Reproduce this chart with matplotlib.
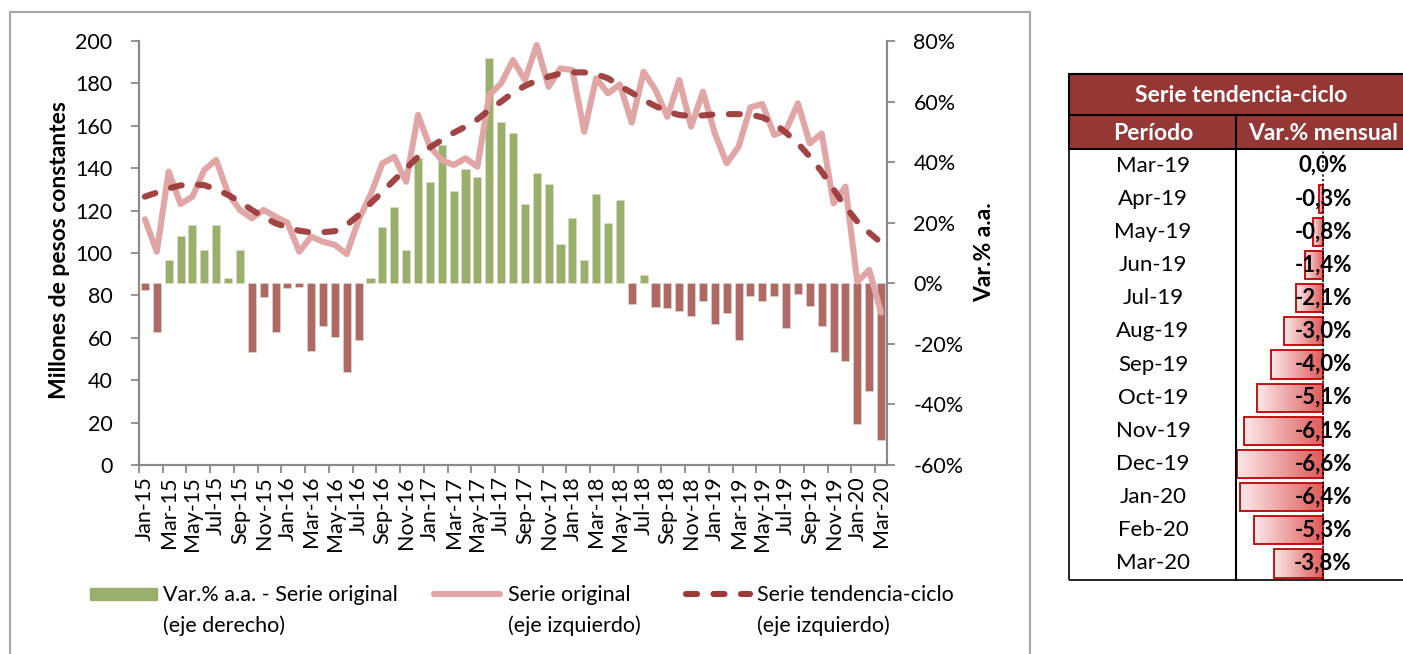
import numpy as np
import matplotlib
matplotlib.use("Agg")
import matplotlib.pyplot as plt
from matplotlib.lines import Line2D
from matplotlib.patches import Rectangle
from matplotlib.colors import LinearSegmentedColormap

plt.rcParams['font.family'] = ['Lato', 'DejaVu Sans']

W, H = 1403, 654

# --- data -------------------------------------------------------------
month_names = ['Jan', 'Feb', 'Mar', 'Apr', 'May', 'Jun',
               'Jul', 'Aug', 'Sep', 'Oct', 'Nov', 'Dec']
months = [m + '-' + y for y in ['15', '16', '17', '18', '19'] for m in month_names] + ['Jan-20', 'Feb-20', 'Mar-20']

# Var.% a.a. - serie original (eje derecho, %)
var_aa = [-2.2, -16.2, 7.8, 15.5, 19.4, 11.1, 19.4, 1.9, 11.0, -22.8, -4.6, -16.2,
          -1.6, -1.3, -22.4, -14.1, -17.8, -29.4, -18.8, 1.7, 18.5, 25.1, 11.0, 41.3,
          33.6, 45.7, 30.6, 37.9, 35.0, 74.5, 53.4, 49.7, 26.2, 36.4, 32.9, 13.0,
          21.4, 7.7, 29.5, 20.0, 27.5, -7.0, 2.8, -7.9, -8.2, -9.0, -10.7, -5.9,
          -13.6, -9.9, -18.8, -4.1, -5.7, -4.1, -14.8, -3.7, -7.4, -14.0, -22.8, -25.8,
          -46.6, -35.6, -51.9]

# Serie original (millones de pesos constantes)
original = [115.9, 100.6, 138.4, 123.1, 126.6, 139.2, 143.9, 128.2, 120.3, 116.4, 120.3, 117.1,
            114.3, 100.6, 107.7, 105.3, 103.8, 99.5, 115.6, 127.4, 142.3, 145.4, 133.6, 165.1,
            150.2, 143.9, 141.5, 144.7, 140.7, 174.5, 180.0, 191.0, 181.6, 198.1, 178.4, 187.1,
            186.3, 157.2, 182.4, 175.3, 179.5, 161.5, 185.5, 176.9, 164.3, 181.6, 159.6, 176.1,
            156.4, 142.3, 150.2, 168.7, 170.3, 155.7, 158.0, 170.6, 151.7, 156.4, 123.4, 131.3,
            86.5, 92.0, 71.9]

# Serie tendencia-ciclo
trend = [126.6, 128.5, 130.5, 131.9, 132.4, 132.0, 130.0, 127.4, 124.2, 120.3, 117.1, 114.0,
         112.1, 110.5, 109.7, 109.8, 110.3, 113.2, 117.9, 123.4, 128.9, 134.4, 139.9, 145.4,
         149.8, 153.3, 156.7, 159.6, 163.0, 167.5, 171.4, 175.6, 178.8, 181.3, 183.2, 184.7,
         185.2, 185.2, 184.4, 182.4, 178.8, 175.6, 172.2, 169.3, 166.7, 165.1, 164.6, 164.9,
         165.4, 165.5, 165.5, 165.3, 164.0, 161.2, 156.7, 151.7, 145.4, 138.4, 130.0, 121.8,
         114.8, 109.6, 104.9]

table_periods = ['Mar-19', 'Apr-19', 'May-19', 'Jun-19', 'Jul-19', 'Aug-19', 'Sep-19',
                 'Oct-19', 'Nov-19', 'Dec-19', 'Jan-20', 'Feb-20', 'Mar-20']
table_var = [0.0, -0.3, -0.8, -1.4, -2.1, -3.0, -4.0, -5.1, -6.1, -6.6, -6.4, -5.3, -3.8]

# --- styles -----------------------------------------------------------
GREEN = '#9BAF6C'
RED_BAR = '#B06866'
PINK = '#E0A6A5'
TREND = '#9C3A3A'
HEADER = '#953735'
SPINE = '#898989'
FS = 15.5


def fx(px):
    return px / W


def fy(py):
    return 1 - py / H


fig = plt.figure(figsize=(W / 100, H / 100), dpi=100)

# chart border
fig.add_artist(Rectangle((fx(10), fy(700)), fx(1030) - fx(10), fy(12) - fy(700),
                         transform=fig.transFigure, fill=False, edgecolor='#A6A6A6', lw=1.5))

# bars live on the bottom axes (right scale), lines on the top axes (left scale)
ax = fig.add_axes([fx(139), fy(465), fx(887) - fx(139), fy(41) - fy(465)])
ax2 = ax.twinx()

x = np.arange(len(months))
colors = [GREEN if v >= 0 else RED_BAR for v in var_aa]
ax.bar(x, var_aa, width=0.68, color=colors, edgecolor='#D8E0C8', linewidth=0.4)
ax.set_ylim(-60, 80)
ax.set_yticks(np.arange(-60, 81, 20))
ax.set_yticklabels([f'{v}%' for v in range(-60, 81, 20)])
ax.yaxis.tick_right()
ax.yaxis.set_label_position('right')

ax2.plot(x, original, color=PINK, lw=4.4, solid_joinstyle='round', solid_capstyle='round')
ax2.plot(x, trend, color=TREND, lw=4.4, dashes=(1.8, 2.7), dash_capstyle='round', alpha=0.95)
ax2.set_ylim(0, 200)
ax2.set_yticks(np.arange(0, 201, 20))
ax2.yaxis.tick_left()

ax.set_xlim(-0.5, len(months) - 0.5)
ax.set_xticks(x[::2])
ax.set_xticklabels(months[::2], rotation=90)
ax.set_xticks(np.arange(-0.5, len(months), 2), minor=True)
ax.tick_params(axis='x', which='major', length=0, pad=8, labelsize=FS)
ax.tick_params(axis='x', which='minor', length=6, width=1.3, color=SPINE)

for a in (ax, ax2):
    a.spines['top'].set_visible(False)
    for s in ('left', 'right', 'bottom'):
        a.spines[s].set_color(SPINE)
        a.spines[s].set_linewidth(1.5)
    a.tick_params(axis='y', length=6, width=1.3, color=SPINE, pad=13, labelsize=FS)

fig.text(fx(60), fy(250), 'Millones de pesos constantes', rotation=90, ha='center', va='center',
         fontsize=16.5, fontweight='bold')
fig.text(fx(985), fy(252), 'Var.% a.a.', rotation=90, ha='center', va='center',
         fontsize=16.5, fontweight='bold')

# legend
fig.add_artist(Rectangle((fx(90), fy(600)), fx(157) - fx(90), fy(588) - fy(600),
                         transform=fig.transFigure, color=GREEN))
fig.add_artist(Line2D([fx(434), fx(500)], [fy(594), fy(594)], transform=fig.transFigure,
                      color=PINK, lw=4.4, solid_capstyle='round'))
fig.add_artist(Line2D([fx(686), fx(750)], [fy(594), fy(594)], transform=fig.transFigure,
                      color=TREND, lw=4.4, dashes=(1.8, 2.7), dash_capstyle='round'))
legend_texts = [(163, 'Var.% a.a. - Serie original', '(eje derecho)'),
                (508, 'Serie original', '(eje izquierdo)'),
                (757, 'Serie tendencia-ciclo', '(eje izquierdo)')]
for px, l1, l2 in legend_texts:
    fig.text(fx(px), fy(595), l1, ha='left', va='center', fontsize=FS)
    fig.text(fx(px), fy(626), l2, ha='left', va='center', fontsize=FS)

# --- table ------------------------------------------------------------
T_LEFT, T_RIGHT, T_DIV = 1069, 1415, 1236
Y_H1, Y_H2, Y_BODY, Y_END = 74, 115, 149, 580
row_h = (Y_END - Y_BODY) / len(table_periods)


def frect(x0, y0, x1, y1, **kw):
    fig.add_artist(Rectangle((fx(x0), fy(y1)), fx(x1) - fx(x0), fy(y0) - fy(y1),
                             transform=fig.transFigure, **kw))


frect(T_LEFT, Y_H1, T_RIGHT, Y_H2, facecolor=HEADER, edgecolor='black', lw=1.5)
frect(T_LEFT, Y_H2, T_DIV, Y_BODY, facecolor=HEADER, edgecolor='black', lw=1.5)
frect(T_DIV, Y_H2, T_RIGHT, Y_BODY, facecolor=HEADER, edgecolor='black', lw=1.5)
frect(T_LEFT, Y_BODY, T_RIGHT, Y_END, facecolor='none', edgecolor='black', lw=1.2)
fig.add_artist(Line2D([fx(T_DIV), fx(T_DIV)], [fy(Y_BODY), fy(Y_END)],
                      transform=fig.transFigure, color='black', lw=1.5))

fig.text(fx(1241), fy(96), 'Serie tendencia-ciclo', ha='center', va='center',
         color='white', fontsize=16.5, fontweight='bold')
fig.text(fx(1153), fy(133), 'Período', ha='center', va='center',
         color='white', fontsize=16.5, fontweight='bold')
fig.text(fx(1323), fy(133), 'Var.% mensual', ha='center', va='center',
         color='white', fontsize=16.5, fontweight='bold')

# data bars in the second column
tax = fig.add_axes([fx(T_DIV + 1), fy(Y_END), fx(W) - fx(T_DIV + 1), fy(Y_BODY) - fy(Y_END)])
tax.axis('off')
scale = 12.97  # px per percent point
x_lo = -(1323 - (T_DIV + 1)) / scale
x_hi = (W - 1323) / scale
cmap = LinearSegmentedColormap.from_list('bar', ['#FBE9E9', '#DE5A5A'])
grad = np.linspace(0, 1, 256).reshape(1, -1)
bh = 0.85
for i, v in enumerate(table_var):
    if v == 0:
        continue
    rect = Rectangle((v, i - bh / 2), -v, bh, facecolor='none', edgecolor='#C00000', lw=1.3, zorder=3)
    tax.add_patch(rect)
    im = tax.imshow(grad, extent=[v, 0, i + bh / 2, i - bh / 2], cmap=cmap, aspect='auto', zorder=2)
    im.set_clip_path(rect)
tax.axvline(0, color='black', ls=(0, (1.5, 1.5)), lw=1.1, zorder=4)
tax.set_xlim(x_lo, x_hi)
tax.set_ylim(len(table_var) - 0.5, -0.5)

for i, (p, v) in enumerate(zip(table_periods, table_var)):
    yc = Y_BODY + row_h * (i + 0.5)
    fig.text(fx(1153), fy(yc), p, ha='center', va='center', fontsize=16)
    fig.text(fx(1323), fy(yc), f'{v:.1f}%'.replace('.', ','), ha='center', va='center',
             fontsize=16, fontweight='bold', zorder=5)

fig.savefig('out.png', dpi=100)
plt.close()
